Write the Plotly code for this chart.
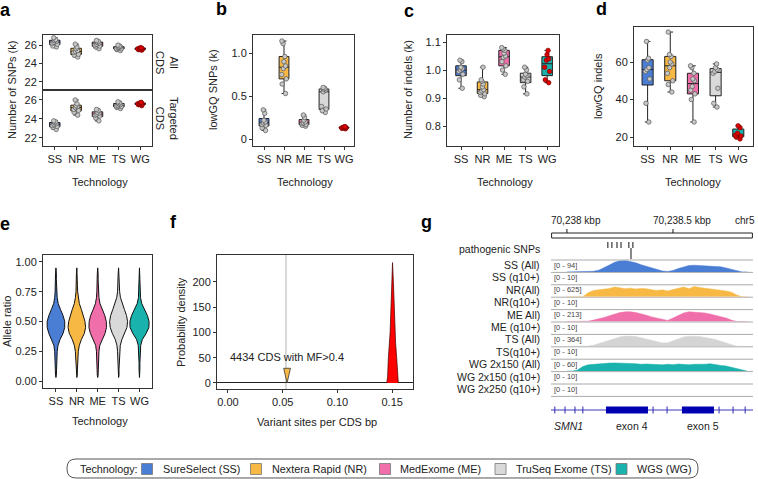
import plotly.graph_objects as go

W, H = 758, 479
FONT = "Liberation Sans, Arial, Helvetica, sans-serif"


def X(p):
    return p / W


def Y(p):
    return 1 - p / H


# ---------------- data ----------------
techs = ["SS", "NR", "ME", "TS", "WG"]
tech_names = ["SureSelect (SS)", "Nextera Rapid (NR)", "MedExome (ME)", "TruSeq Exome (TS)", "WGS (WG)"]
tech_colors = ["#4a7dd4", "#f7b844", "#f06ea9", "#d9d9d9", "#19b2ac"]

# panel a: number of SNPs (k)
snp_all_cds = [
    [25.8, 25.9, 26.1, 26.2, 26.3, 26.4, 26.5, 26.6, 26.8],
    [24.7, 24.9, 25.0, 25.2, 25.3, 25.4, 25.6, 25.8, 26.1],
    [25.6, 25.8, 25.9, 26.0, 26.1, 26.2, 26.3, 26.4, 26.5],
    [25.4, 25.5, 25.6, 25.6, 25.7, 25.8, 25.8, 25.9, 26.0],
    [25.45, 25.5, 25.55, 25.6, 25.6, 25.65, 25.7, 25.7],
]
snp_targeted_cds = [
    [22.9, 23.1, 23.2, 23.3, 23.4, 23.5, 23.6, 23.7, 23.8],
    [24.4, 24.7, 24.9, 25.0, 25.2, 25.3, 25.4, 25.6, 26.0],
    [23.8, 24.1, 24.3, 24.4, 24.5, 24.6, 24.7, 24.9, 25.0],
    [25.1, 25.2, 25.3, 25.35, 25.4, 25.5, 25.6, 25.7, 25.8],
    [25.4, 25.5, 25.55, 25.6, 25.6, 25.65, 25.7, 25.75],
]
# panel b: lowGQ SNPs (k)
lowgq_snps = [
    [0.10, 0.13, 0.16, 0.17, 0.19, 0.20, 0.22, 0.30, 0.34],
    [0.53, 0.64, 0.70, 0.75, 0.82, 0.85, 0.90, 0.96, 1.11, 1.14],
    [0.15, 0.16, 0.17, 0.18, 0.19, 0.20, 0.22, 0.25, 0.28],
    [0.31, 0.33, 0.35, 0.38, 0.55, 0.57, 0.58, 0.59, 0.60],
    [0.12, 0.125, 0.13, 0.13, 0.135, 0.14, 0.14, 0.145],
]
# panel c: number of indels (k)
indels = [
    [0.935, 0.965, 0.985, 0.995, 1.0, 1.005, 1.01, 1.03, 1.035],
    [0.905, 0.91, 0.915, 0.92, 0.925, 0.93, 0.94, 0.95, 0.96, 0.965, 1.01],
    [0.985, 1.0, 1.015, 1.03, 1.045, 1.05, 1.06, 1.07, 1.075, 1.08],
    [0.915, 0.94, 0.96, 0.965, 0.975, 0.98, 0.985, 1.0, 1.01],
    [0.955, 0.965, 0.995, 1.01, 1.035, 1.04, 1.055, 1.07],
]
# panel d: lowGQ indels
lowgq_indels = [
    [28, 38, 51, 55, 56, 57, 61, 62, 71],
    [44, 48, 50, 54, 57, 59, 60, 63, 64, 76],
    [28, 40, 43, 45, 47, 50, 51, 54, 57, 58],
    [36, 38, 46, 54, 55, 56, 57, 59],
    [19, 20, 20.5, 21, 22, 25, 26],
]
# panel e: allele ratio violins (half-width profile) and inner box stats
allele_grid = [0.03, 0.05, 0.10, 0.15, 0.20, 0.25, 0.30, 0.35, 0.40, 0.45,
               0.50, 0.55, 0.60, 0.65, 0.70, 0.75, 0.80, 0.85, 0.90, 0.95]
allele_halfwidth = [
    [0.0, 0.02, 0.03, 0.03, 0.04, 0.06, 0.10, 0.20, 0.34, 0.42, 0.42, 0.34, 0.22, 0.11, 0.06, 0.04, 0.03, 0.02, 0.02, 0.0],
    [0.0, 0.02, 0.03, 0.04, 0.05, 0.07, 0.12, 0.22, 0.36, 0.42, 0.39, 0.32, 0.22, 0.12, 0.07, 0.04, 0.03, 0.02, 0.02, 0.0],
    [0.0, 0.02, 0.03, 0.03, 0.04, 0.06, 0.10, 0.21, 0.35, 0.42, 0.41, 0.34, 0.22, 0.11, 0.06, 0.04, 0.03, 0.02, 0.02, 0.0],
    [0.0, 0.02, 0.02, 0.03, 0.04, 0.05, 0.08, 0.16, 0.30, 0.40, 0.43, 0.38, 0.28, 0.17, 0.09, 0.05, 0.03, 0.02, 0.02, 0.0],
    [0.0, 0.01, 0.02, 0.02, 0.03, 0.04, 0.06, 0.14, 0.32, 0.45, 0.46, 0.38, 0.24, 0.11, 0.05, 0.03, 0.02, 0.02, 0.01, 0.0],
]
allele_q1 = [0.40, 0.39, 0.40, 0.41, 0.43]
allele_median = [0.47, 0.46, 0.47, 0.48, 0.49]
allele_q3 = [0.55, 0.54, 0.55, 0.55, 0.55]
allele_lower = [0.18, 0.17, 0.18, 0.20, 0.27]
allele_upper = [0.78, 0.78, 0.78, 0.78, 0.72]

# panel f: variant sites per CDS bp density
wgs_density_x = [0.1450, 0.1458, 0.1465, 0.1475, 0.1481, 0.1489, 0.1495, 0.1503,
                 0.1511, 0.1517, 0.1525, 0.1531, 0.1541, 0.1548, 0.1556]
wgs_density_y = [0, 12, 50, 80, 100, 150, 200, 238, 200, 150, 100, 80, 50, 12, 0]
mf_sites_rate = 0.054
mf_cds_count = 4434
cds_ref_line = 0.053
f_xticks = [0.0, 0.05, 0.10, 0.15]
f_yticks = [0, 50, 100, 150, 200]

# panel g: genome browser tracks
g_view = [70237925, 70238877]
ruler_ticks = [70238000, 70238500]
ruler_labels = ["70,238 kbp", "70,238.5 kbp"]
pathogenic_snps = [70238193, 70238212, 70238236, 70238255, 70238292, 70238311]
center_line = 70238302
track_labels = ["SS (All)", "SS (q10+)", "NR(All)", "NR(q10+)", "ME All)", "ME (q10+)",
                "TS (All)", "TS(q10+)", "WG 2x150 (All)", "WG 2x150 (q10+)", "WG 2x250 (q10+)"]
track_max = [94, 10, 625, 10, 213, 10, 364, 10, 60, 10, 10]
cov_pos = [70238000, 70238025, 70238050, 70238075, 70238100, 70238125, 70238150, 70238175,
           70238200, 70238225, 70238250, 70238275, 70238300, 70238325, 70238350, 70238375,
           70238400, 70238425, 70238450, 70238475, 70238500, 70238525, 70238550, 70238575,
           70238600, 70238625, 70238650, 70238675, 70238700, 70238725, 70238750, 70238775,
           70238800, 70238825, 70238850]
cov_ss = [0, 0, 0, 0, 0, 5, 14, 33, 56, 80, 91, 94, 86, 75, 58, 45, 33, 19, 8, 3,
          11, 28, 42, 52, 55, 53, 52, 49, 47, 42, 33, 21, 8, 0, 0]
cov_nr = [0, 0, 0, 0, 219, 344, 375, 406, 450, 531, 500, 438, 469, 425, 450, 438, 375, 344,
          375, 313, 388, 469, 531, 438, 563, 500, 469, 438, 388, 344, 313, 250, 94, 0, 0]
cov_me = [0, 0, 0, 0, 6, 26, 47, 75, 107, 138, 166, 181, 181, 166, 145, 117, 85, 60, 32, 21,
          64, 117, 160, 181, 177, 170, 160, 138, 117, 89, 64, 26, 0, 0, 0]
cov_ts = [0, 0, 0, 0, 7, 36, 91, 146, 200, 255, 298, 328, 328, 309, 273, 226, 182, 138, 109,
          116, 182, 255, 298, 320, 320, 309, 284, 255, 218, 164, 109, 44, 0, 0, 0]
cov_wg = [0, 0, 6, 24, 33, 36, 37, 39, 42, 43, 41, 42, 40, 39, 36, 37, 35, 36, 33, 36,
          34, 37, 35, 33, 36, 35, 36, 39, 33, 30, 27, 21, 12, 5, 0]
coverage_tracks = [cov_ss, cov_nr, cov_me, cov_ts, cov_wg]
coverage_rows = [0, 2, 4, 6, 8]
exon_start = [70238184, 70238542]
exon_end = [70238382, 70238693]
exon_names = ["exon 4", "exon 5"]
gene_name = "SMN1"
intron_marks = [70237943, 70237991, 70238038, 70238075, 70238406, 70238472, 70238717, 70238783, 70238840]
exon_marks = [70238241, 70238307, 70238594, 70238642]

# ---------------- figure ----------------
fig = go.Figure()
ann = []
shapes = []


def text(x, y, s, size=11, xanchor="center", yanchor="middle", angle=0, color="#222"):
    ann.append(dict(x=X(x), y=Y(y), xref="paper", yref="paper", text=s, showarrow=False,
                    xanchor=xanchor, yanchor=yanchor, textangle=angle,
                    font=dict(size=size, family=FONT, color=color)))


def add_boxes(data, xa, ya):
    for t, vals, col in zip(techs, data, tech_colors):
        wg = t == "WG"
        fig.add_trace(go.Box(
            x=[t] * len(vals), y=vals, xaxis=xa, yaxis=ya, name=t,
            fillcolor=col, line=dict(color="#222", width=1),
            marker=dict(color="#e00000" if wg else "#c8c8c8", size=4.5,
                        line=dict(color="#7a0000" if wg else "#555", width=0.7)),
            boxpoints="all", jitter=0.6, pointpos=0, whiskerwidth=0.5,
            showlegend=False, hoverinfo="skip"))


add_boxes(snp_all_cds, "x", "y")
add_boxes(snp_targeted_cds, "x2", "y2")
add_boxes(lowgq_snps, "x3", "y3")
add_boxes(indels, "x4", "y4")
add_boxes(lowgq_indels, "x5", "y5")

# panel e violins
for i, (hw, col) in enumerate(zip(allele_halfwidth, tech_colors)):
    xs = [i + w for w in hw] + [i - w for w in reversed(hw)]
    ys = allele_grid + list(reversed(allele_grid))
    fig.add_trace(go.Scatter(x=xs, y=ys, xaxis="x6", yaxis="y6", mode="lines", fill="toself",
                             fillcolor=col, line=dict(color="#111", width=1),
                             showlegend=False, hoverinfo="skip"))
fig.add_trace(go.Box(x=list(range(5)), q1=allele_q1, median=allele_median, q3=allele_q3,
                     lowerfence=allele_lower, upperfence=allele_upper, width=0.2,
                     xaxis="x6", yaxis="y6", fillcolor="white",
                     line=dict(color="#111", width=1), whiskerwidth=0,
                     boxpoints=False, showlegend=False, hoverinfo="skip"))

# panel f
fig.add_trace(go.Scatter(x=wgs_density_x, y=wgs_density_y, xaxis="x7", yaxis="y7", mode="lines",
                         fill="tozeroy", fillcolor="#ff0000", line=dict(color="#400000", width=0.7),
                         showlegend=False, hoverinfo="skip"))
mf_hw, mf_h = 0.0031, 29
fig.add_trace(go.Scatter(x=[mf_sites_rate - mf_hw, mf_sites_rate + mf_hw, mf_sites_rate, mf_sites_rate - mf_hw],
                         y=[mf_h, mf_h, 0, mf_h], xaxis="x7", yaxis="y7", mode="lines", fill="toself",
                         fillcolor="#f7b844", line=dict(color="#333", width=0.8),
                         showlegend=False, hoverinfo="skip"))
shapes.append(dict(type="line", xref="x7", yref="y7 domain", x0=cds_ref_line, x1=cds_ref_line, y0=0, y1=1,
                   line=dict(color="#cccccc", width=1.5), layer="below"))
ann.append(dict(x=mf_sites_rate, y=52, xref="x7", yref="y7", text=f"{mf_cds_count} CDS with MF>0.4",
                showarrow=False, font=dict(size=11, family=FONT, color="#222")))

# panel g coverage tracks
ROW0, ROWH = 260.0, 12.4
for k, (row, cov) in enumerate(zip(coverage_rows, coverage_tracks)):
    n = 9 + k
    top = ROW0 + ROWH * row
    bot = top + ROWH
    col = tech_colors[k] if k != 3 else "#d4d4d4"
    fig.add_trace(go.Scatter(x=cov_pos, y=cov, xaxis=f"x{n}", yaxis=f"y{n}", mode="lines",
                             fill="tozeroy", fillcolor=col, line=dict(color=col, width=0.5),
                             showlegend=False, hoverinfo="skip"))
    fig.layout[f"xaxis{n}"] = dict(domain=[X(551), X(753)], range=g_view, visible=False,
                                   anchor=f"y{n}", fixedrange=True)
    fig.layout[f"yaxis{n}"] = dict(domain=[Y(bot - 0.5), Y(top + 0.5)], range=[0, track_max[row]],
                                   visible=False, anchor=f"x{n}", fixedrange=True)

# g overlay elements (y in pixel units)
snp_x, snp_y = [], []
for p in pathogenic_snps:
    snp_x += [p, p, None]
    snp_y += [242, 248, None]
fig.add_trace(go.Scatter(x=snp_x, y=snp_y, xaxis="x8", yaxis="y8", mode="lines",
                         line=dict(color="#111", width=1), showlegend=False, hoverinfo="skip"))
rx, ry = [], []
for p in ruler_ticks:
    rx += [p, p, None]
    ry += [229, 233, None]
fig.add_trace(go.Scatter(x=rx, y=ry, xaxis="x8", yaxis="y8", mode="lines",
                         line=dict(color="#111", width=1), showlegend=False, hoverinfo="skip"))
fig.add_trace(go.Scatter(x=[center_line, center_line], y=[248, 259], xaxis="x8", yaxis="y8", mode="lines",
                         line=dict(color="#111", width=1), showlegend=False, hoverinfo="skip"))
fig.add_trace(go.Scatter(x=intron_marks, y=[410] * len(intron_marks), xaxis="x8", yaxis="y8",
                         mode="markers", marker=dict(symbol="line-ns", size=5,
                                                     line=dict(color="#2a2ab0", width=1)),
                         showlegend=False, hoverinfo="skip"))
for s, e in zip(exon_start, exon_end):
    shapes.append(dict(type="rect", xref="x8", yref="y8", x0=s, x1=e, y0=406.5, y1=413.5,
                       fillcolor="#0000b0", line=dict(width=0), layer="above"))
fig.add_trace(go.Scatter(x=exon_marks, y=[410] * len(exon_marks), xaxis="x8", yaxis="y8",
                         mode="markers", marker=dict(symbol="square", size=1.8, color="white"),
                         showlegend=False, hoverinfo="skip"))
shapes.append(dict(type="line", xref="x8 domain", yref="y8", x0=0, x1=1, y0=410, y1=410,
                   line=dict(color="#3a3ab8", width=1), layer="below"))
shapes.append(dict(type="rect", xref="x8 domain", yref="y8", x0=0.003, x1=0.997, y0=233, y1=238,
                   line=dict(color="#222", width=1), fillcolor="white", layer="below"))
for k in range(len(track_labels) + 1):
    yy = ROW0 + ROWH * k
    shapes.append(dict(type="line", xref="x8 domain", yref="y8", x0=0, x1=1, y0=yy, y1=yy,
                       line=dict(color="#aaaaaa", width=1), layer="below"))
for k, (lab, mx) in enumerate(zip(track_labels, track_max)):
    yy = ROW0 + ROWH * k + 5
    text(542, yy, lab, size=10.5, xanchor="right")
    text(552, yy, f"[0 - {mx}]", size=7.5, xanchor="left", color="#444")
text(542, 249, "pathogenic SNPs", size=10.5, xanchor="right")
for p, lab in zip(ruler_ticks, ruler_labels):
    ann.append(dict(x=p, y=220, xref="x8", yref="y8", text=lab, showarrow=False, xshift=9,
                    font=dict(size=10, family=FONT, color="#222")))
text(757, 220, "chr5", size=10, xanchor="right")
text(552, 426, f"<i>{gene_name}</i>", size=10.5, xanchor="left")
for s, e, nm in zip(exon_start, exon_end, exon_names):
    ann.append(dict(x=(s + e) / 2, y=426, xref="x8", yref="y8", text=nm, showarrow=False, xshift=5,
                    font=dict(size=10.5, family=FONT, color="#222")))

# ---------------- axes ----------------
def frame_axis(**kw):
    d = dict(showline=True, mirror=True, linecolor="#333", linewidth=1, ticks="outside", ticklen=3,
             tickcolor="#333", tickfont=dict(size=11, color="#222", family=FONT), showgrid=False,
             zeroline=False, fixedrange=True)
    d.update(kw)
    return d


cat = dict(type="category", categoryorder="array", categoryarray=techs)
fig.update_layout(
    xaxis=frame_axis(domain=[X(43), X(152)], anchor="y", range=[-0.55, 4.55], showticklabels=False, ticks="", **cat),
    yaxis=frame_axis(domain=[Y(90), Y(35)], anchor="x", range=[21.1, 27.1], tickvals=[22, 24, 26]),
    xaxis2=frame_axis(domain=[X(43), X(152)], anchor="y2", range=[-0.55, 4.55], **cat),
    yaxis2=frame_axis(domain=[Y(146), Y(90)], anchor="x2", range=[21.15, 27.05], tickvals=[22, 24, 26]),
    xaxis3=frame_axis(domain=[X(253), X(354)], anchor="y3", range=[-0.55, 4.5], **cat),
    yaxis3=frame_axis(domain=[Y(146), Y(35)], anchor="x3", range=[-0.08, 1.21],
                      tickvals=[0, 0.5, 1.0], ticktext=["0", "0.5", "1.0"]),
    xaxis4=frame_axis(domain=[X(447), X(559)], anchor="y4", range=[-0.65, 4.55], **cat),
    yaxis4=frame_axis(domain=[Y(146), Y(35)], anchor="x4", range=[0.729, 1.125],
                      tickvals=[0.8, 0.9, 1.0, 1.1], ticktext=["0.8", "0.9", "1.0", "1.1"]),
    xaxis5=frame_axis(domain=[X(634), X(753)], anchor="y5", range=[-0.6, 4.65], **cat),
    yaxis5=frame_axis(domain=[Y(146), Y(27)], anchor="x5", range=[15.2, 78.7], tickvals=[20, 40, 60]),
    xaxis6=frame_axis(domain=[X(43), X(152)], anchor="y6", range=[-0.62, 4.6],
                      tickvals=list(range(5)), ticktext=techs),
    yaxis6=frame_axis(domain=[Y(388), Y(255)], anchor="x6", range=[-0.058, 1.058],
                      tickvals=[0, 0.25, 0.5, 0.75, 1.0], ticktext=["0.00", "0.25", "0.50", "0.75", "1.00"]),
    xaxis7=frame_axis(domain=[X(217), X(413)], anchor="y7", range=[-0.01, 0.169],
                      tickvals=f_xticks, ticktext=[f"{v:.2f}" for v in f_xticks]),
    yaxis7=frame_axis(domain=[Y(389), Y(255)], anchor="x7", range=[-12, 253], tickvals=f_yticks,
                      zeroline=True, zerolinecolor="#222", zerolinewidth=1),
    xaxis8=dict(domain=[X(551), X(753)], range=g_view, visible=False, anchor="y8", fixedrange=True),
    yaxis8=dict(domain=[Y(440), Y(213)], range=[440, 213], visible=False, anchor="x8", fixedrange=True),
)

# axis titles / labels
text(12, 90, "Number of SNPs (k)", angle=-90)
text(213, 90, "lowGQ SNPs (k)", angle=-90)
text(408, 90, "Number of indels (k)", angle=-90)
text(598, 86, "lowGQ indels", angle=-90)
text(7, 322, "Allele ratio", angle=-90)
text(181, 322, "Probability density", angle=-90)
for cx in [100, 305, 505, 693]:
    text(cx, 182, "Technology")
text(100, 421, "Technology")
text(317, 422, "Variant sites per CDS bp")
text(167, 62, "All<br>CDS", angle=90)
text(167, 118, "Targeted<br>CDS", angle=90)
for lab, (lx, ly) in zip("abcdefg", [(5, 10), (221, 9), (409, 11), (601, 9), (5, 224), (173, 222), (426, 222)]):
    text(lx, ly, f"<b>{lab}</b>", size=18, color="#000")

# legend (manual)
def rounded_rect(x0, y0, x1, y1, r):
    def P(x, y):
        return f"{X(x):.5f},{Y(y):.5f}"
    return ("M " + P(x0 + r, y0) + " L " + P(x1 - r, y0) + " Q " + P(x1, y0) + " " + P(x1, y0 + r) +
            " L " + P(x1, y1 - r) + " Q " + P(x1, y1) + " " + P(x1 - r, y1) +
            " L " + P(x0 + r, y1) + " Q " + P(x0, y1) + " " + P(x0, y1 - r) +
            " L " + P(x0, y0 + r) + " Q " + P(x0, y0) + " " + P(x0 + r, y0) + " Z")


shapes.append(dict(type="path", xref="paper", yref="paper", path=rounded_rect(67, 459, 698, 478, 9),
                   line=dict(color="#555", width=1)))
text(78, 469, "Technology:", size=10.8, xanchor="left")
sq_left = [141.5, 250.5, 379.5, 495, 616]
for sx, nm, col in zip(sq_left, tech_names, tech_colors):
    shapes.append(dict(type="rect", xref="paper", yref="paper", x0=X(sx), x1=X(sx + 11),
                       y0=Y(474.5), y1=Y(463.5), fillcolor=col, line=dict(color="#777", width=0.8)))
    text(sx + 19, 469, nm, size=10.8, xanchor="left")

fig.update_layout(width=W, height=H, margin=dict(l=0, r=0, t=0, b=0), paper_bgcolor="white",
                  plot_bgcolor="rgba(0,0,0,0)", showlegend=False, boxmode="overlay",
                  font=dict(family=FONT, size=11, color="#222"), annotations=ann, shapes=shapes)

fig.write_html("out.html", config={"displayModeBar": False},
               post_script="document.body.style.margin='0';document.body.style.overflow='hidden';")
